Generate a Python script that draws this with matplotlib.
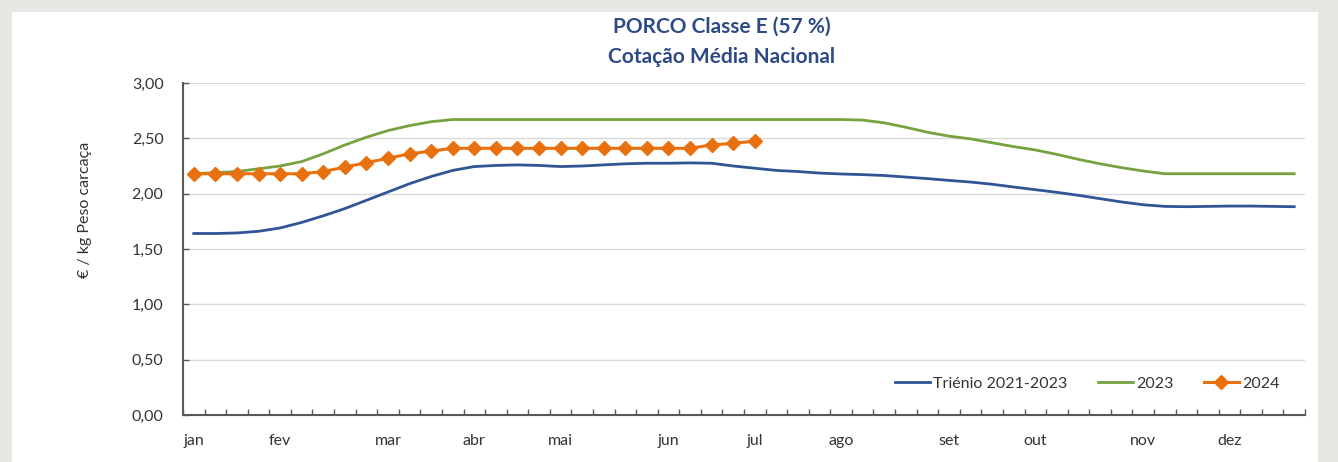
import matplotlib.pyplot as plt
from matplotlib.patches import Rectangle
import numpy as np

plt.rcParams['font.family'] = ['Lato', 'DejaVu Sans']

# semanas 1..52
semanas = list(range(1, 53))
meses = ['jan', 'fev', 'mar', 'abr', 'mai', 'jun', 'jul', 'ago', 'set', 'out', 'nov', 'dez']
semana_mes = [1, 5, 10, 14, 18, 23, 27, 31, 36, 40, 45, 49]

trienio = [1.64, 1.64, 1.645, 1.66, 1.69, 1.74, 1.80, 1.865, 1.94, 2.015,
           2.09, 2.155, 2.21, 2.245, 2.255, 2.26, 2.255, 2.245, 2.25, 2.26,
           2.27, 2.275, 2.275, 2.278, 2.275, 2.25, 2.23, 2.21, 2.20, 2.186,
           2.178, 2.172, 2.164, 2.15, 2.136, 2.12, 2.105, 2.085, 2.06, 2.036,
           2.012, 1.985, 1.955, 1.925, 1.90, 1.885, 1.882, 1.885, 1.888, 1.888,
           1.885, 1.882]

ano2023 = [2.18, 2.19, 2.20, 2.225, 2.25, 2.29, 2.36, 2.44, 2.51, 2.57,
           2.615, 2.65, 2.67, 2.67, 2.67, 2.67, 2.67, 2.67, 2.67, 2.67,
           2.67, 2.67, 2.67, 2.67, 2.67, 2.67, 2.67, 2.67, 2.67, 2.67,
           2.67, 2.665, 2.64, 2.60, 2.555, 2.52, 2.495, 2.46, 2.425, 2.395,
           2.355, 2.31, 2.27, 2.235, 2.205, 2.18, 2.18, 2.18, 2.18, 2.18,
           2.18, 2.18]

ano2024 = [2.18, 2.18, 2.18, 2.18, 2.18, 2.18, 2.20, 2.24, 2.28, 2.32,
           2.36, 2.385, 2.41, 2.41, 2.41, 2.41, 2.41, 2.41, 2.41, 2.41,
           2.41, 2.41, 2.41, 2.41, 2.44, 2.455, 2.475]

fig = plt.figure(figsize=(13.38, 4.62), dpi=100)
fig.patch.set_facecolor('#e9e7e4')
# cartao branco
fig.patches.append(Rectangle((12 / 1338, 0), (1318 - 12) / 1338, (462 - 12) / 462,
                             transform=fig.transFigure, facecolor='white',
                             edgecolor='none', zorder=-10))

ax = fig.add_axes([183 / 1338, 47 / 462, 1122 / 1338, 332 / 462])
ax.set_zorder(5)
ax.set_facecolor('none')

ax.plot(semanas, trienio, color='#2f5597', lw=2.0, label='Triénio 2021-2023', zorder=3)
ax.plot(semanas, ano2023, color='#77a23f', lw=2.0, label='2023', zorder=3)
ax.plot(semanas[:len(ano2024)], ano2024, color='#e8700f', lw=2.2, marker='D',
        markersize=7, label='2024', zorder=4)

ax.set_xlim(0.5, 52.5)
ax.set_ylim(0, 3)
ax.set_yticks(np.arange(0, 3.01, 0.5))
ax.set_yticklabels([f'{v:.2f}'.replace('.', ',') for v in np.arange(0, 3.01, 0.5)])
ax.set_xticks(semana_mes)
ax.set_xticklabels(meses)
ax.set_xticks(np.arange(0.5, 53, 1), minor=True)

ax.grid(axis='y', color='#d9d9d9', lw=1.0, zorder=0)
ax.set_axisbelow(True)
for s in ['top', 'right']:
    ax.spines[s].set_visible(False)
for s in ['left', 'bottom']:
    ax.spines[s].set_color('#595959')
    ax.spines[s].set_linewidth(1.5)

ax.tick_params(axis='x', which='major', length=0, pad=14, labelsize=11.5, labelcolor='#333333')
ax.tick_params(axis='x', which='minor', direction='in', length=4, width=1, color='#595959')
ax.tick_params(axis='y', direction='in', length=4, width=1, color='#595959',
               pad=14, labelsize=11.5, labelcolor='#333333')

fig.text(85 / 1338, 1 - 210 / 462, '€ / kg Peso carcaça', rotation=90, ha='center',
         va='center', fontsize=11.5, color='#333333')
fig.text(722 / 1338, 1 - 27 / 462, 'PORCO Classe E (57 %)', ha='center', va='center',
         fontsize=15, fontweight='bold', color='#2e4a86')
fig.text(722 / 1338, 1 - 57 / 462, 'Cotação Média Nacional', ha='center', va='center',
         fontsize=15, fontweight='bold', color='#2e4a86')

ax.legend(loc='center right', bbox_to_anchor=(0.99, 0.095), ncol=3, frameon=False,
          fontsize=11.5, handlelength=2.2, columnspacing=1.9, handletextpad=0.2,
          labelcolor='#333333')

fig.savefig('out.png', dpi=100, facecolor=fig.get_facecolor())
